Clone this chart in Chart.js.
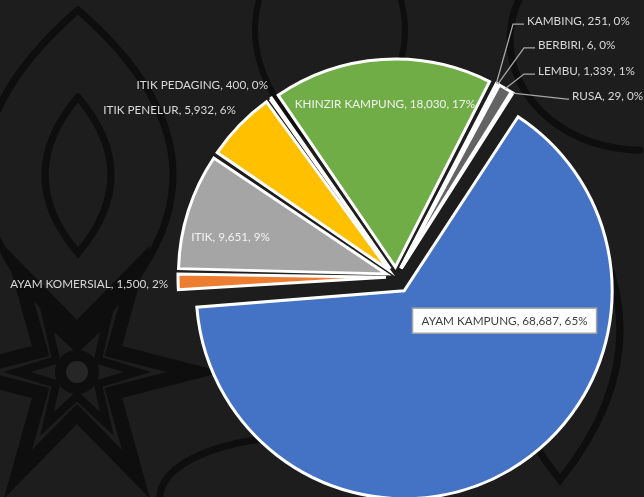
<!DOCTYPE html>
<html><head><meta charset="utf-8">
<script src="https://cdn.jsdelivr.net/npm/chart.js@4.4.0/dist/chart.umd.min.js"></script>
<style>html,body{margin:0;padding:0;background:#1e1e1e;overflow:hidden}#wrap{width:644px;height:497px;position:relative}</style>
</head><body><div id="wrap"><canvas id="c" width="644" height="497"></canvas></div>
<script>
// ---- data ----
const categories = ['AYAM KAMPUNG','AYAM KOMERSIAL','ITIK','ITIK PENELUR','ITIK PEDAGING','KHINZIR KAMPUNG','KAMBING','BERBIRI','LEMBU','RUSA'];
const values = [68687, 1500, 9651, 5932, 400, 18030, 251, 6, 1339, 29];
const percentLabels = ['65%','2%','9%','6%','0%','17%','0%','0%','1%','0%'];
// ---- styles ----
const colors = ['#4472C4','#ED7D31','#A5A5A5','#FFC000','#5B9BD5','#70AD47','#264478','#9E480E','#636363','#997300'];
const explode = [64,40,40,40,40,40,40,40,40,40]; // chart.js offset (drawn at offset/4 px)
const RADIUS = 208;
// label layout relative to the exploded arc's outer mid point
const labelLayout = [
  {mode:'box', align:'center', dx:-5.7, dy:-149, color:'#404040'},
  {mode:'out', align:'right', dx:-10, dy:2, color:'#d9d9d9'},
  {mode:'in', align:'center', dx:42.3, dy:26.3, color:'#f2f2f2'},
  {mode:'out', align:'right', dx:-3.7, dy:-15, color:'#d9d9d9'},
  {mode:'out', align:'right', dx:-2.8, dy:-13.5, color:'#d9d9d9'},
  {mode:'in', align:'center', dx:3, dy:44.6, color:'#f2f2f2'},
  {mode:'lead', align:'left', dx:30.7, dy:-62.4, elbow:14, color:'#d9d9d9'},
  {mode:'lead', align:'left', dx:40.2, dy:-39.3, elbow:14, color:'#d9d9d9'},
  {mode:'lead', align:'left', dx:32.6, dy:-17.4, elbow:14, color:'#d9d9d9'},
  {mode:'lead', align:'left', dx:59.1, dy:3, elbow:5, color:'#d9d9d9'}
];
const FONT = '12.3px Lato, "Open Sans", sans-serif';

function fmt(v){ return v.toLocaleString('en-US'); }

const bgPlugin = {
  id:'bg',
  beforeDraw(chart){
    const c = chart.ctx; const W = chart.width, H = chart.height;
    c.save();
    c.fillStyle = '#1d1d1d'; c.fillRect(0,0,W,H);
    c.strokeStyle = '#0e0e0e'; c.lineCap='round'; c.lineJoin='miter';
    function lens(cx,cy,w,h,lw){
      c.lineWidth = lw; c.beginPath();
      c.moveTo(cx, cy-h/2);
      c.quadraticCurveTo(cx+w, cy, cx, cy+h/2);
      c.quadraticCurveTo(cx-w, cy, cx, cy-h/2);
      c.stroke();
    }
    lens(78,175,66,156,7);
    lens(78,175,190,330,7);
    lens(560,330,120,300,7);
    lens(330,30,150,260,6);
    function star(cx,cy,R,r,n,rot,lw){
      c.beginPath();
      for(let i=0;i<2*n;i++){
        const a = rot + i*Math.PI/n; const rr = i%2===0?R:r;
        const x = cx+Math.cos(a)*rr, y = cy+Math.sin(a)*rr;
        if(i===0) c.moveTo(x,y); else c.lineTo(x,y);
      }
      c.closePath();
      c.lineWidth=lw; c.stroke();
    }
    star(77,372,118,42,6,0,14);
    star(77,372,60,24,6,0,8);
    c.fillStyle='#0e0e0e';
    c.beginPath(); c.arc(77,372,22,0,Math.PI*2); c.fill();
    c.fillStyle='#262626';
    c.beginPath(); c.arc(77,372,11,0,Math.PI*2); c.fill();
    c.lineWidth = 7;
    c.beginPath(); c.ellipse(640,40,130,110,0,Math.PI*0.5,Math.PI*1.2); c.stroke();
    c.beginPath(); c.ellipse(300,497,140,60,0,Math.PI,Math.PI*2); c.stroke();
    c.beginPath(); c.ellipse(470,497,90,50,0,Math.PI,Math.PI*1.6); c.stroke();
    c.restore();
  }
};

const radiusFix = {
  id:'radiusFix',
  afterDatasetUpdate(chart, args){
    args.meta.data.forEach(arc => {
      const off = (arc.options.offset || 0)/4;
      const fix = 1 - Math.sin(Math.min(Math.PI, arc.circumference || 0));
      arc.outerRadius = RADIUS - off*fix;
    });
  }
};

const labelPlugin = {
  id:'sliceLabels',
  afterDatasetsDraw(chart){
    const c = chart.ctx;
    const meta = chart.getDatasetMeta(0);
    c.save();
    c.font = FONT;
    const sx = 166 / c.measureText('AYAM KAMPUNG, 68,687, 65%').width;
    c.textBaseline = 'middle';
    meta.data.forEach((arc,i) => {
      const L = labelLayout[i];
      const mid = (arc.startAngle + arc.endAngle)/2;
      const d = explode[i]/4;
      const ox = arc.x + Math.cos(mid)*(RADIUS+d);
      const oy = arc.y + Math.sin(mid)*(RADIUS+d);
      const lx = ox + L.dx, ly = oy + L.dy;
      const text = categories[i] + ', ' + fmt(values[i]) + ', ' + percentLabels[i];
      const w = c.measureText(text).width * sx;
      if(L.mode === 'lead'){
        c.strokeStyle = '#a6a6a6'; c.lineWidth = 1.3;
        c.beginPath();
        c.moveTo(ox, oy);
        c.lineTo(lx - L.elbow, ly + 3);
        c.lineTo(lx - 3, ly + 3);
        c.stroke();
      }
      let left;
      if(L.align==='left') left = lx; else if(L.align==='right') left = lx - w; else left = lx - w/2;
      if(L.mode === 'box'){
        const pad = 9, h = 25;
        c.fillStyle = '#ffffff';
        c.fillRect(left-pad, ly-h/2, w+2*pad, h);
        c.strokeStyle = '#a6a6a6'; c.lineWidth = 1.5;
        c.strokeRect(left-pad, ly-h/2, w+2*pad, h);
      }
      c.fillStyle = L.color;
      c.save();
      c.translate(left, ly);
      c.scale(sx, 1);
      c.textAlign = 'left';
      c.fillText(text, 0, 0);
      c.restore();
    });
    c.restore();
  }
};

new Chart(document.getElementById('c'), {
  type:'pie',
  data:{
    labels:categories,
    datasets:[{
      data:values,
      backgroundColor:colors,
      borderColor:'#ffffff',
      borderWidth:3,
      borderJoinStyle:'miter',
      offset:explode,
      hoverOffset:0
    }]
  },
  options:{
    responsive:false,
    animation:false,
    rotation:32.5,
    radius:RADIUS,
    layout:{padding:{left:148,right:0,top:57,bottom:0}},
    events:[],
    plugins:{legend:{display:false}, tooltip:{enabled:false}}
  },
  plugins:[bgPlugin, radiusFix, labelPlugin]
});
</script>
</body></html>
